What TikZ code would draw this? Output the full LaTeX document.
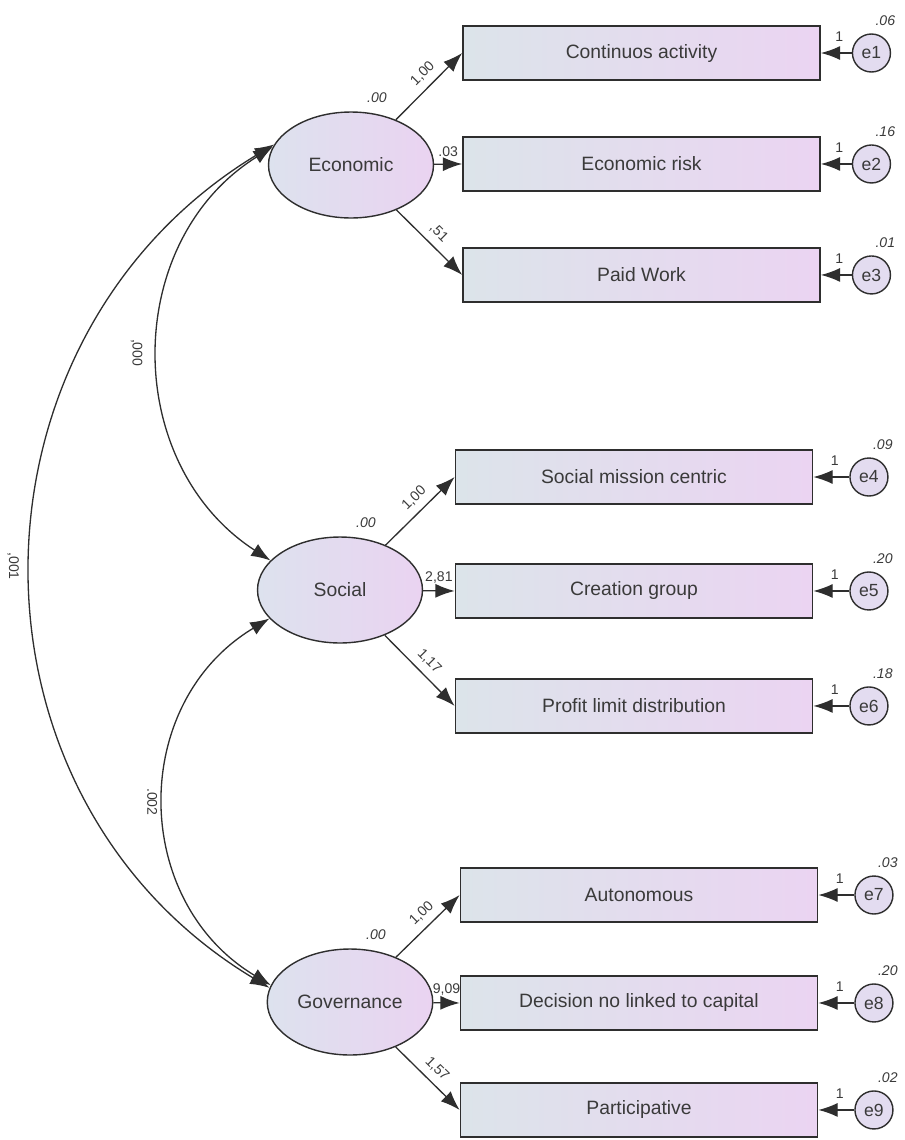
\documentclass[tikz,border=0pt]{standalone}
\usepackage{fontspec}
\setmainfont{Liberation Sans}
\usetikzlibrary{arrows.meta,positioning,shapes.geometric}

\definecolor{linegray}{HTML}{2E2E2E}
\definecolor{textgray}{HTML}{3A3A3A}
\definecolor{latleft}{HTML}{DDE2EE}
\definecolor{latright}{HTML}{EAD3F1}
\definecolor{obsleft}{HTML}{DCE4EA}
\definecolor{obsright}{HTML}{EBD4F2}
\definecolor{errfill}{HTML}{E3DCF0}

\begin{document}
\begin{tikzpicture}[x=0.02cm,y=0.02cm,>={Latex[length=11pt,width=8pt]},on grid,
  latent/.style={ellipse,draw=linegray,line width=0.8pt,left color=latleft,right color=latright,
    minimum width=3.3cm,minimum height=2.12cm,text=textgray,font=\fontsize{11}{13}\selectfont},
  obs/.style={rectangle,draw=linegray,line width=1pt,left color=obsleft,right color=obsright,
    minimum width=7.14cm,minimum height=1.08cm,text=textgray,font=\fontsize{11}{13}\selectfont},
  err/.style={circle,draw=linegray,line width=0.8pt,fill=errfill,minimum size=0.76cm,inner sep=0pt,
    text=textgray,font=\fontsize{10}{12}\selectfont},
  load/.style={->,draw=linegray,line width=0.75pt},
  cov/.style={<->,draw=linegray,line width=0.75pt},
  num/.style={text=textgray,inner sep=1pt,font=\fontsize{8}{9}\selectfont},
  var/.style={num,font=\fontsize{8}{9}\selectfont\itshape}]
  \useasboundingbox (0,0) rectangle (904,-1140);

  % latent factors
  \node[latent]  (eco)  at (351,-165)              {Economic};
  \node[latent]  (soc)  at (340,-590)              {Social};
  \node[latent]  (gov)  at (350,-1002)             {Governance};

  % indicators
  \node[obs]     (ca)   at (641.5,-53)             {Continuos activity};
  \node[obs]     (er)   [below=2.22cm of ca]       {Economic risk};
  \node[obs]     (pw)   [below=2.22cm of er]       {Paid Work};
  \node[obs]     (smc)  at (634,-477)              {Social mission centric};
  \node[obs]     (cg)   [below=2.28cm of smc]      {Creation group};
  \node[obs]     (pld)  [below=2.3cm of cg]        {Profit limit distribution};
  \node[obs]     (aut)  at (639,-895)              {Autonomous};
  \node[obs]     (dnl)  [below=2.16cm of aut]      {Decision no linked to capital};
  \node[obs]     (par)  [below=2.14cm of dnl]      {Participative};

  % error terms
  \node[err]     (e1)   [right=4.6cm of ca]        {e1};
  \node[err]     (e2)   [right=4.6cm of er]        {e2};
  \node[err]     (e3)   [right=4.6cm of pw]        {e3};
  \node[err]     (e4)   [right=4.7cm of smc]       {e4};
  \node[err]     (e5)   [right=4.7cm of cg]        {e5};
  \node[err]     (e6)   [right=4.7cm of pld]       {e6};
  \node[err]     (e7)   [right=4.7cm of aut]       {e7};
  \node[err]     (e8)   [right=4.7cm of dnl]       {e8};
  \node[err]     (e9)   [right=4.7cm of par]       {e9};

  % variances
  \node[var] [above right=0.14cm and 0.28cm of eco.north] {.00};
  \node[var] [above right=0.14cm and 0.28cm of soc.north] {.00};
  \node[var] [above right=0.14cm and 0.28cm of gov.north] {.00};
  \node[var] [above right=0.12cm and 0.04cm of e1.north]  {.06};
  \node[var] [above right=0.12cm and 0.04cm of e2.north]  {.16};
  \node[var] [above right=0.12cm and 0.04cm of e3.north]  {.01};
  \node[var] [above right=0.12cm and 0.04cm of e4.north]  {.09};
  \node[var] [above right=0.12cm and 0.04cm of e5.north]  {.20};
  \node[var] [above right=0.12cm and 0.04cm of e6.north]  {.18};
  \node[var] [above right=0.12cm and 0.04cm of e7.north]  {.03};
  \node[var] [above right=0.12cm and 0.04cm of e8.north]  {.20};
  \node[var] [above right=0.12cm and 0.04cm of e9.north]  {.02};

  % loadings
  \path (eco) edge [load] node [num, sloped, above=3pt, pos=0.55] {1,00} (ca.west)
        (eco) edge [load] node [num, above=3pt] {.03} (er.west)
        (eco) edge [load] node [num, sloped, above=3pt] {,51} (pw.west)
        (soc) edge [load] node [num, sloped, above=3pt, pos=0.55] {1,00} (smc.west)
        (soc) edge [load] node [num, above=3pt] {2,81} (cg.west)
        (soc) edge [load] node [num, sloped, above=3pt] {1,17} (pld.west)
        (gov) edge [load] node [num, sloped, above=3pt, pos=0.55] {1,00} (aut.west)
        (gov) edge [load] node [num, above=3pt] {9,09} (dnl.west)
        (gov) edge [load] node [num, sloped, above=3pt] {1,57} (par.west);

  % error paths
  \foreach \e/\b in {e1/ca,e2/er,e3/pw,e4/smc,e5/cg,e6/pld,e7/aut,e8/dnl,e9/par}
    \path (\e) edge [load] node [num, above=5pt, pos=0.4] {1} (\b.east);

  % covariances
  \draw [cov] (eco.167) to [out=212, in=147, looseness=1.1]
    node [num, rotate=-90, anchor=north, inner sep=9pt] {,000} (soc.157);
  \draw [cov] (soc.202) to [out=211, in=149, looseness=1.14]
    node [num, rotate=-90, anchor=north, inner sep=4pt] {.002} (gov.168);
  \draw [cov] (eco.165) to [out=211, in=149, looseness=1.13]
    node [num, rotate=-90, anchor=north, inner sep=7pt] {,001} (gov.170);
\end{tikzpicture}
\end{document}
